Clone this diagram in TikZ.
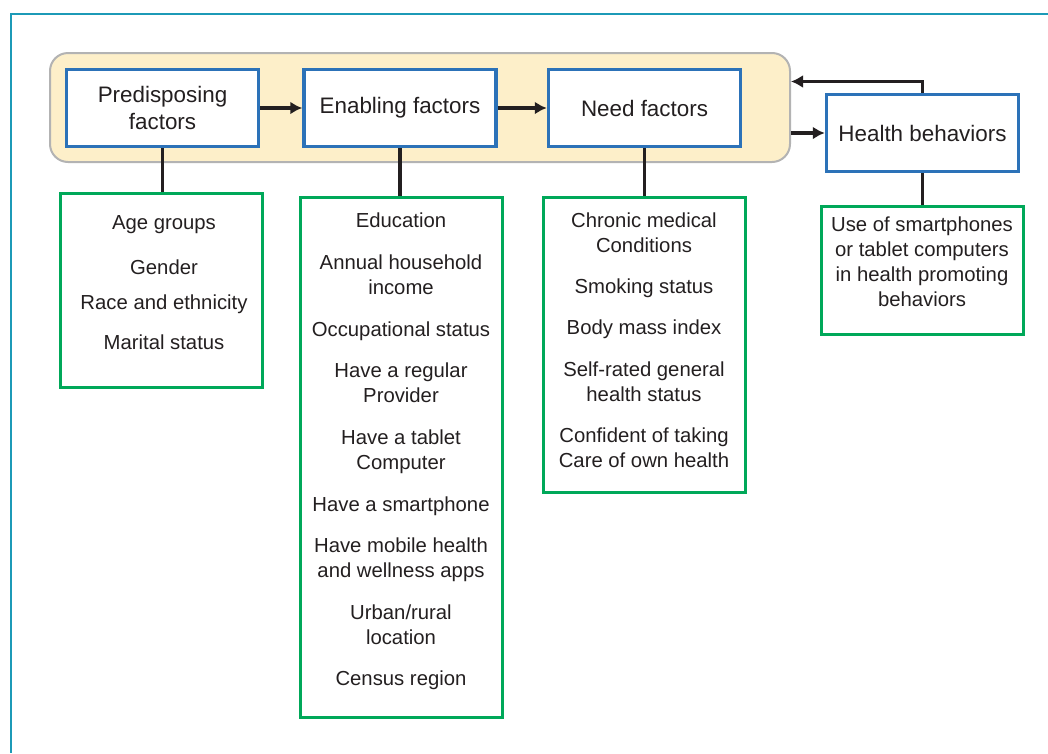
\documentclass[tikz,border=0pt]{standalone}
\usepackage{fontspec}
\setmainfont{Liberation Sans}
\usepackage{tikz}
\usetikzlibrary{arrows.meta,positioning,calc}
\usepackage{xcolor}
\definecolor{frameteal}{HTML}{1C9AB7}
\definecolor{groupfill}{HTML}{FDEFC9}
\definecolor{groupline}{HTML}{B3B3B3}
\definecolor{factorblue}{HTML}{2C72B8}
\definecolor{listgreen}{HTML}{00A859}
\definecolor{inkgray}{HTML}{231F20}
\tikzstyle{groupbox} = [rectangle, rounded corners=18pt, minimum width=740pt, minimum height=109pt, draw=groupline, line width=2pt, fill=groupfill]
\tikzstyle{factor} = [rectangle, minimum width=192pt, minimum height=77pt, align=center, draw=factorblue, line width=3.5pt, fill=white, text=inkgray, font=\fontsize{22.4}{27}\selectfont]
\tikzstyle{factorlist} = [rectangle, minimum width=202pt, draw=listgreen, line width=3pt]
\tikzstyle{listtext} = [align=center, anchor=north, inner sep=0pt, text=inkgray, font=\fontsize{20.3}{25}\selectfont]
\tikzstyle{arrow} = [line width=3.5pt, draw=inkgray, -{Latex[length=12pt,width=13pt]}]
\tikzstyle{link} = [line width=3.5pt, draw=inkgray]

\begin{document}
\begin{tikzpicture}[x=1pt, y=-1pt]
    \useasboundingbox (0,0) rectangle (1048,753);
    % Frame
    \draw [frameteal, line width=2pt] (1048,14) -- (11,14) -- (11,753);

    % Nodes
    \node (group) [groupbox] at (420,107.5) {};
    \node (pred) [factor] at (162.5,108) {Predisposing\\factors};
    \node (enab) [factor] at (400,108) {Enabling factors};
    \node (need) [factor] at (644.5,108) {Need factors};
    \node (hb) [factor] at (922.5,133) {Health behaviors};

    \node (predlist) [factorlist, minimum height=194pt] at (161.5,290) {};
    \node (enablist) [factorlist, minimum height=520pt] at (401,457) {};
    \node (needlist) [factorlist, minimum height=295pt] at (644,344.5) {};
    \node (hblist) [factorlist, minimum height=128pt] at (922,270) {};

    \node (predtext) [listtext] at (164,215) {Age groups\\[20pt] Gender\\[10pt] Race and ethnicity\\[15pt] Marital status};
    \node (enabtext) [listtext] at (401,212.5) {Education\\[17pt] Annual household\\income\\[17pt] Occupational status\\[16pt] Have a regular\\Provider\\[17pt] Have a tablet\\Computer\\[17pt] Have a smartphone\\[16pt] Have mobile health\\and wellness apps\\[17pt] Urban/rural\\location\\[16pt] Census region};
    \node (needtext) [listtext] at (644,212.5) {Chronic medical\\Conditions\\[16pt] Smoking status\\[16pt] Body mass index\\[17pt] Self-rated general\\health status\\[16pt] Confident of taking\\Care of own health};
    \node (hbtext) [listtext] at (922,217) {Use of smartphones\\or tablet computers\\in health promoting\\behaviors};

    % Arrows
    \draw [arrow] (pred) -- (enab);
    \draw [arrow] (enab) -- (need);
    \draw [arrow] (group.east |- hb.west) -- (hb.west);
    \draw [arrow] (hb.north) |- ([yshift=26pt]group.east);

    % Links
    \draw [link] (pred.south) -- (pred.south |- predlist.north);
    \draw [link] (enab.south) -- (enab.south |- enablist.north);
    \draw [link] (need.south) -- (need.south |- needlist.north);
    \draw [link] (hb.south) -- (hb.south |- hblist.north);
\end{tikzpicture}
\end{document}
